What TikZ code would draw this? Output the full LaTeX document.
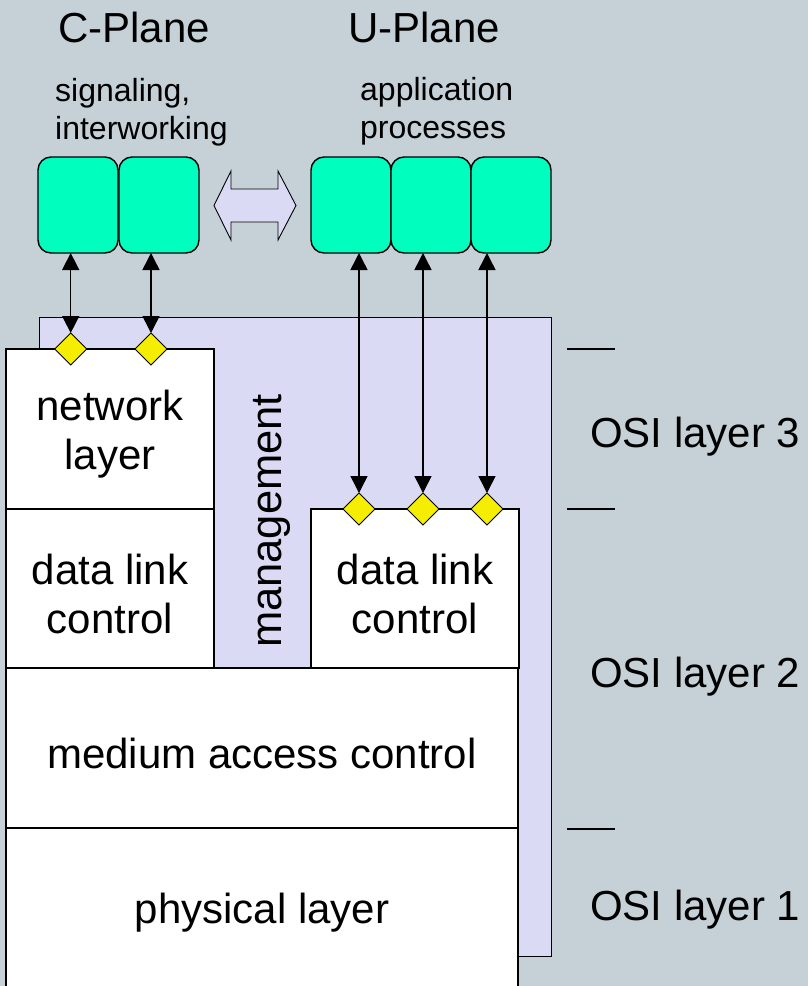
\documentclass[tikz,border=0pt]{standalone}
\usepackage{fontspec}
\setmainfont{Liberation Sans}
\usetikzlibrary{shapes.geometric,arrows.meta}
\definecolor{bgcol}{RGB}{197,209,215}
\definecolor{mgmtcol}{RGB}{218,218,245}
\definecolor{appcol}{RGB}{0,255,190}
\definecolor{sapcol}{RGB}{245,238,0}
\tikzset{
  layerbox/.style={draw=black, line width=1.4pt, fill=white, anchor=north west,
    inner sep=0pt, outer sep=0pt},
  layertext/.style={align=center, inner sep=0pt, yshift=-5pt,
    font=\fontsize{42}{49}\selectfont},
  appbox/.style={draw=black, line width=1.4pt, fill=appcol, rounded corners=13pt,
    anchor=north west, inner sep=0pt, outer sep=0pt,
    minimum width=80pt, minimum height=96pt},
  sap/.style={diamond, draw=black, line width=0.9pt, fill=sapcol, aspect=1,
    inner sep=0pt, outer sep=0pt, minimum size=32pt},
  link/.style={line width=1.5pt, {Triangle[length=17pt,width=17pt]}-{Triangle[length=17pt,width=17pt]}},
  bigtext/.style={font=\fontsize{42}{48}\selectfont, inner sep=0pt},
  smalltext/.style={font=\fontsize{32}{38}\selectfont, inner sep=0pt, anchor=base west},
  tick/.style={line width=1.4pt}
}
\begin{document}
\begin{tikzpicture}[x=1pt,y=-1pt]
  % canvas
  \fill[bgcol] (0,0) rectangle (808,986);
  \useasboundingbox (0,0) rectangle (808,986);
  \begin{scope}
  \clip (0,0) rectangle (808,986);

  % management plane behind the protocol stack
  \node[draw=black, line width=1.4pt, fill=mgmtcol, anchor=north west, inner sep=0pt,
        minimum width=512pt, minimum height=639pt] (mgmt) at (39,317) {};
  \node[font=\fontsize{43.5}{48}\selectfont, inner sep=0pt, rotate=90, anchor=base]
        (mgmtlabel) at (281,521) {management};

  % protocol layers
  \node[layerbox, minimum width=208pt, minimum height=160pt] (net) at (6,349) {};
  \node[layerbox, minimum width=208pt, minimum height=159pt] (dlcc) at (6,509) {};
  \node[layerbox, minimum width=208pt, minimum height=159pt] (dlcu) at (311,509) {};
  \node[layerbox, minimum width=512pt, minimum height=160pt] (mac) at (6,668) {};
  \node[layerbox, minimum width=512pt, minimum height=160pt] (phy) at (6,828) {};
  \node[layertext] (netlabel) at (net.center) {network\\layer};
  \node[layertext] (dlcclabel) at (dlcc.center) {data link\\control};
  \node[layertext] (dlculabel) at (dlcu.center) {data link\\control};
  \node[layertext] (maclabel) at (mac.center) {medium access control};
  \node[layertext] (phylabel) at (phy.center) {physical layer};

  % application entities
  \node[appbox] (c1) at (38,157) {};
  \node[appbox] (c2) at (119,157) {};
  \node[appbox] (u1) at (311,157) {};
  \node[appbox] (u2) at (391,157) {};
  \node[appbox] (u3) at (471,157) {};

  % service access points
  \node[sap] (s1) at (70.7,349) {};
  \node[sap] (s2) at (151,349) {};
  \node[sap] (s3) at (359,509) {};
  \node[sap] (s4) at (423,509) {};
  \node[sap] (s5) at (487,509) {};

  % links between entities and layers
  \draw[link] (s1.north |- c1.south) -- (s1.north);
  \draw[link] (s2.north |- c2.south) -- (s2.north);
  \draw[link] (s3.north |- u1.south) -- (s3.north);
  \draw[link] (s4.north |- u2.south) -- (s4.north);
  \draw[link] (s5.north |- u3.south) -- (s5.north);

  % interworking arrow between the planes
  \draw[line width=0.9pt, fill=mgmtcol]
    (214,205.5) -- (231,171) -- (231,189) -- (278,189) -- (278,171) -- (296,205.5)
    -- (278,240) -- (278,222) -- (231,222) -- (231,240) -- cycle;

  % plane headings
  \node[bigtext, anchor=base west] (cplane) at (58,42) {C-Plane};
  \node[bigtext, anchor=base west] (uplane) at (348,42) {U-Plane};
  \node[smalltext] (sig) at (55,101.7) {signaling,};
  \node[smalltext] (iw) at (55,139.3) {interworking};
  \node[smalltext] (app) at (360,100) {application};
  \node[smalltext] (proc) at (360,138.3) {processes};

  % OSI layer boundaries and names
  \draw[tick] (567,349) -- (615,349);
  \draw[tick] (567,509) -- (615,509);
  \draw[tick] (567,829) -- (615,829);
  \node[bigtext, anchor=base west] (osi3) at (590,447) {OSI layer 3};
  \node[bigtext, anchor=base west] (osi2) at (590,687) {OSI layer 2};
  \node[bigtext, anchor=base west] (osi1) at (590,920) {OSI layer 1};
  \end{scope}
\end{tikzpicture}
\end{document}
